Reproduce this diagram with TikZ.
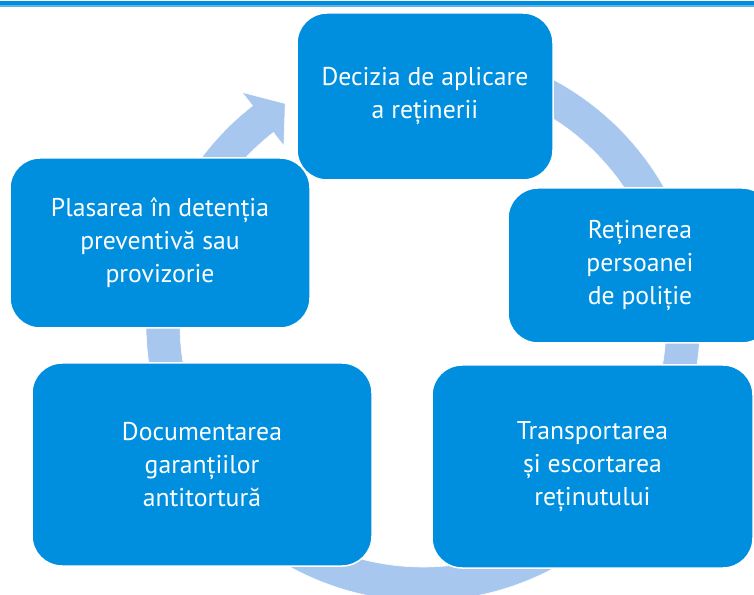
\documentclass[tikz,border=0pt]{standalone}
\usepackage{fontspec}
\setmainfont{PT Sans}
\usetikzlibrary{calc}
\definecolor{boxblue}{RGB}{0,143,222}
\definecolor{ringblue}{RGB}{168,199,239}
\definecolor{lineblue}{RGB}{95,178,232}
\tikzset{ box/.style = { rectangle
                       , rounded corners = 30pt
                       , fill         = boxblue
                       , draw         = white
                       , line width   = 1.5pt
                       , text         = white
                       , align        = center
                       , inner sep    = 0pt
                       , font         = \fontsize{25.7}{33}\selectfont
                       },
          ring/.style = { fill = ringblue
                        , draw = white
                        , line width = 0.6pt
                        }
        }

\begin{document}
\begin{tikzpicture}[x=1pt, y=1pt]
\useasboundingbox (0,0) rectangle (754,594);
% rule at the top
\fill[lineblue] (0,587) rectangle (754,589);
\fill[boxblue]  (0,589) rectangle (754,593);
% the ring with its arrow
\coordinate (c) at (423,270);
\path[ring] ($(c)+(100:277)$) arc[start angle=100, end angle=-232, radius=277]
    -- ($(c)+(128:294)$) -- ($(c)+(122:260)$) -- ($(c)+(128:226)$)
    -- ($(c)+(128:243)$) arc[start angle=-232, end angle=100, radius=243]
    -- cycle;
% the steps
\node[box, minimum width=256pt, minimum height=167pt] (decizia)  at (425,497.5)
    {Decizia de aplicare\\a reținerii};
\node[box, minimum width=264pt, minimum height=155pt] (retinere) at (640,328.5)
    {Reținerea\\persoanei\\de poliție};
\node[box, minimum width=321pt, minimum height=203pt] (transport) at (592.5,127.5)
    {Transportarea\\și escortarea\\reținutului};
\node[box, minimum width=340pt, minimum height=203pt] (garantii) at (202,129.5)
    {Documentarea\\garanțiilor\\antitortură};
\node[box, minimum width=300pt, minimum height=170pt] (plasare)  at (160,351)
    {Plasarea în detenția\\preventivă sau\\provizorie};
\end{tikzpicture}
\end{document}
